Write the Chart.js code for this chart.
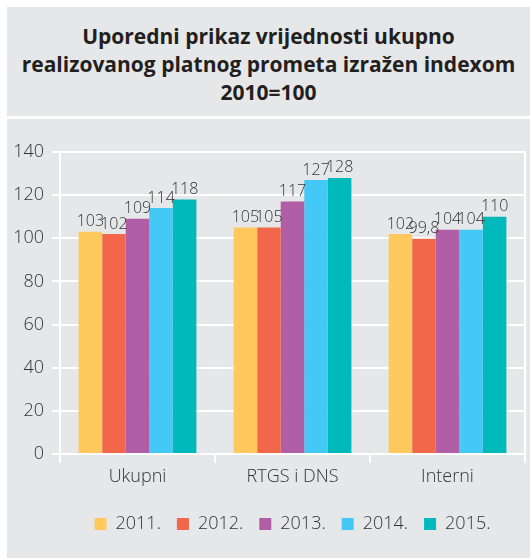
<!DOCTYPE html>
<html>
<head>
<meta charset="utf-8">
<script src="https://cdn.jsdelivr.net/npm/chart.js@4/dist/chart.umd.min.js"></script>
<style>
  html, body { margin: 0; padding: 0; background: #ffffff; }
  #title {
    position: absolute; left: 7px; top: 7px; width: 523px; height: 109px;
    background: #e6e7e8; display: flex; align-items: center; justify-content: center;
    text-align: center; font-family: "Open Sans", sans-serif; font-weight: 700;
    font-size: 21px; line-height: 28px; color: #231f20; padding-top: 4px; box-sizing: border-box;
  }
  #box {
    position: absolute; left: 7px; top: 119px; width: 523px; height: 439px; background: #e6e7e8;
  }
</style>
</head>
<body>
<div id="title">Uporedni prikaz vrijednosti ukupno<br>realizovanog platnog prometa izražen indexom<br>2010=100</div>
<div id="box"><canvas id="c" width="523" height="439"></canvas></div>
<script>
const categories = ["Ukupni", "RTGS i DNS", "Interni"];
const seriesNames = ["2011.", "2012.", "2013.", "2014.", "2015."];
const values2011 = [103, 105, 102];
const values2012 = [102, 105, 99.8];
const values2013 = [109, 117, 104];
const values2014 = [114, 127, 104];
const values2015 = [118, 128, 110];
const yTicks = [0, 20, 40, 60, 80, 100, 120, 140];
const colors = ["#ffc95d", "#f26649", "#b05ea5", "#44c8f5", "#00b9bb"];

const allValues = [values2011, values2012, values2013, values2014, values2015];
const FONT = '"Open Sans", sans-serif';
const TXT = '#333333';

const valueLabels = {
  id: 'valueLabels',
  afterDatasetsDraw(chart) {
    const ctx = chart.ctx;
    ctx.save();
    ctx.font = '300 16px ' + FONT;
    ctx.fillStyle = TXT;
    ctx.textAlign = 'center';
    ctx.textBaseline = 'bottom';
    chart.data.datasets.forEach((ds, i) => {
      const meta = chart.getDatasetMeta(i);
      meta.data.forEach((bar, j) => {
        const v = ds.data[j];
        ctx.fillText(String(v).replace('.', ','), bar.x, bar.y - 2);
      });
    });
    ctx.restore();
  }
};

new Chart(document.getElementById('c'), {
  type: 'bar',
  data: {
    labels: categories,
    datasets: seriesNames.map((n, i) => ({
      label: n,
      data: allValues[i],
      backgroundColor: colors[i],
      borderWidth: 0,
      categoryPercentage: 0.76,
      barPercentage: 1.0
    }))
  },
  options: {
    responsive: false,
    animation: false,
    layout: { padding: { top: 33, right: 5, left: 0, bottom: 15 } },
    plugins: {
      title: { display: false },
      tooltip: { enabled: false },
      legend: {
        position: 'bottom',
        fullSize: false,
        labels: {
          boxWidth: 12, boxHeight: 12, padding: 16,
          color: TXT, font: { family: FONT, size: 18, weight: '300' }
        }
      }
    },
    scales: {
      x: {
        grid: { offset: true, drawOnChartArea: false, drawTicks: true, tickLength: 9, color: '#ffffff', lineWidth: 2 },
        border: { display: true, color: '#ffffff', width: 2 },
        ticks: { color: TXT, padding: 3, font: { family: FONT, size: 18, weight: '300' } },
        afterFit: s => { s.height = 45; }
      },
      y: {
        min: 0, max: 140,
        afterBuildTicks: s => { s.ticks = yTicks.map(v => ({ value: v })); },
        grid: { color: '#ffffff', lineWidth: 2, tickLength: 8 },
        border: { display: true, color: '#ffffff', width: 2 },
        ticks: { color: TXT, padding: 8, font: { family: FONT, size: 18, weight: '300' } },
        afterFit: s => { s.width = 53; }
      },
      y2: {
        position: 'right',
        display: true,
        grid: { display: false },
        ticks: { display: false },
        border: { display: true, color: '#ffffff', width: 2 },
        afterFit: s => { s.width = 0; }
      }
    }
  },
  plugins: [valueLabels]
});
</script>
</body>
</html>
